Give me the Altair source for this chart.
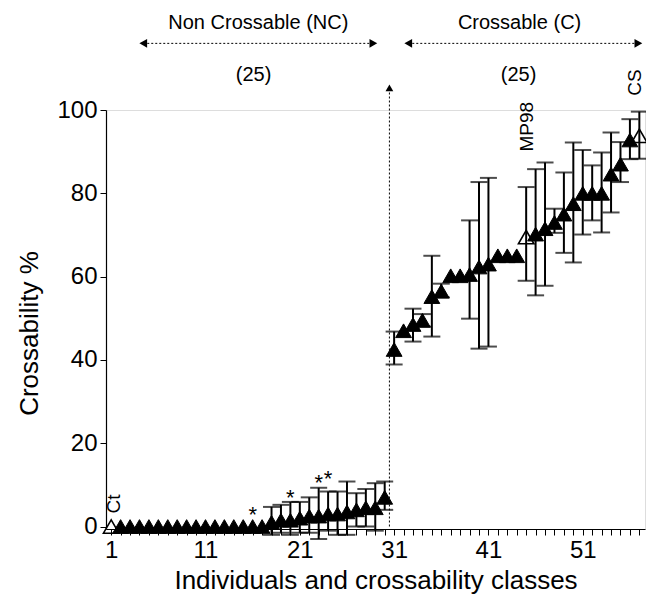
import altair as alt
import pandas as pd

# ---------------- data ----------------
individual = list(range(1, 58))
crossability = [
    0, 0, 0, 0, 0, 0, 0, 0, 0, 0, 0, 0, 0, 0, 0, 0, 0,
    1.0, 1.5, 1.5, 2.0, 2.5, 2.5, 3.0, 3.0, 3.5, 4.0, 4.5, 4.5, 7.0,
    42.5, 47.0, 48.5, 49.5, 55.2, 56.5, 60.2, 60.2, 60.5, 62.3, 63.0,
    65.0, 65.0, 65.0, 69.5, 70.2, 71.5, 73.0, 75.0, 77.5, 80.0, 80.0,
    80.0, 84.6, 87.0, 92.8, 93.8,
]
open_ids = [1, 45, 57]  # Ct, MP98, CS (open triangles)

err_id = [18, 19, 20, 21, 22, 23, 24, 25, 26, 27, 28, 29, 30,
          31, 33, 34, 35, 36, 39, 40, 41, 45, 46, 47, 48, 49, 50, 51, 52, 53, 54, 55, 56, 57]
err_low = [-2, -1.5, -2, -1.5, -1.5, -3, -1, -2, -2, 0, 0, -1, 4,
           38.9, 44.4, 48, 45.6, 55, 49.9, 42.7, 43.2, 59, 55.5, 57.8, 70.5, 65.7, 63.4,
           70.1, 73.5, 70.6, 75.4, 82.7, 88.2, 88.3]
err_high = [4.7, 5.2, 5.9, 5.9, 7.0, 9.3, 8.4, 8.4, 10.8, 8.0, 9.0, 10.4, 10.8,
            46.8, 52.3, 51, 65, 58.3, 73.5, 82.7, 83.7, 81.5, 85.8, 87.4, 76.3, 85, 92.2,
            90.4, 86.7, 89.8, 94.6, 92.3, 97.8, 99.6]

star_x = [16, 20, 23, 24]
star_y = [4.0, 8.0, 11.6, 12.6]

label_text = ["Ct", "MP98", "CS"]
label_x = [1.35, 45.1, 56.5]
label_y = [5.4, 96.0, 106.6]

x_ticks_labeled = [1, 11, 21, 31, 41, 51]
y_ticks = [0, 20, 40, 60, 80, 100]

# annotation positions (data coordinates, above the plot)
divider_x = 30.5
group_text = ["Non Crossable (NC)", "Crossable (C)"]
group_text_x = [16.6, 44.3]
group_count = ["(25)", "(25)"]
group_count_x = [16.1, 44.2]
arrow_start = [4.4, 32.5]
arrow_end = [28.8, 56.9]

FONT = "Liberation Sans"

# ---------------- frames ----------------
pts = pd.DataFrame({"x": individual, "y": crossability})
pts["kind"] = ["open" if i in open_ids else "filled" for i in individual]
errs = pd.DataFrame({"x": err_id, "lo": err_low, "hi": err_high})
stars = pd.DataFrame({"x": star_x, "y": star_y})
labels = pd.DataFrame({"x": label_x, "y": label_y, "t": label_text})
grp = pd.DataFrame({"x": group_text_x, "xc": group_count_x, "t": group_text, "c": group_count,
                    "x1": arrow_start, "x2": arrow_end})
grp["ty"] = 121.0
grp["ay"] = 116.0
grp["cy"] = 108.4
div = pd.DataFrame({"x": [divider_x], "y0": [0.0], "y1": [105.3]})

xs = alt.Scale(domain=[0.45, 57.6], nice=False, zero=False)
ys = alt.Scale(domain=[-0.6, 100], nice=False, zero=False)

x_axis = alt.Axis(
    values=individual,
    labelExpr="(datum.value - 1) % 10 == 0 ? datum.label : ''",
    tickSize=6, tickColor="black", domainColor="black", tickWidth=1, domainWidth=1.2,
    labelFontSize=24, labelColor="black", labelPadding=3, labelFlush=False, labelOverlap=False,
    titleFontSize=26, titleColor="black", titleFontWeight="normal",
    titleX=269.5, titleY=51, titleAlign="center", titleBaseline="middle",
    grid=False,
)
y_axis = alt.Axis(
    values=y_ticks,
    tickSize=6, tickColor="black", domainColor="black", tickWidth=1, domainWidth=1.2,
    labelFontSize=24, labelColor="black", labelPadding=3,
    titleFontSize=26, titleColor="black", titleFontWeight="normal",
    titleX=-77, titleY=223, titleAngle=270, titleAlign="center", titleBaseline="middle",
    grid=False,
)
XT = "Individuals and crossability classes"
YT = "Crossability %"


def X(field="x"):
    return alt.X(f"{field}:Q", scale=xs, axis=x_axis, title=XT)


def Y(field="y"):
    return alt.Y(f"{field}:Q", scale=ys, axis=y_axis, title=YT)


bars = alt.Chart(errs).mark_rule(color="black", strokeWidth=2).encode(
    x=X(), y=Y("lo"), y2="hi:Q")
cap_hi = alt.Chart(errs).mark_tick(color="black", orient="horizontal", size=17, thickness=2).encode(
    x=X(), y=Y("hi"))
cap_lo = alt.Chart(errs).mark_tick(color="black", orient="horizontal", size=17, thickness=2).encode(
    x=X(), y=Y("lo"))

filled = alt.Chart(pts).transform_filter("datum.kind == 'filled'").mark_point(
    shape="triangle-up", filled=True, color="black", stroke="black", strokeWidth=1,
    size=250, opacity=1).encode(x=X(), y=Y())
opened = alt.Chart(pts).transform_filter("datum.kind == 'open'").mark_point(
    shape="triangle-up", filled=False, color="black", strokeWidth=1.6,
    size=240, opacity=1).encode(x=X(), y=Y())

star_layer = alt.Chart(stars).mark_text(
    text="*", font=FONT, fontSize=22, color="black", baseline="middle", dy=5).encode(
    x=X(), y=Y())
label_layer = alt.Chart(labels).mark_text(
    font=FONT, fontSize=19, color="black", angle=270, align="center", baseline="middle").encode(
    x=X(), y=Y(), text="t:N")

divider = alt.Chart(div).mark_rule(color="black", strokeWidth=1, strokeDash=[2, 2]).encode(
    x=X(), y=Y("y0"), y2="y1:Q")
divider_head = alt.Chart(div).mark_point(
    shape="triangle-up", filled=True, color="black", size=60, opacity=1).encode(
    x=X(), y=Y("y1"))

arrows = alt.Chart(grp).mark_rule(color="black", strokeWidth=1, strokeDash=[2, 2]).encode(
    x=X("x1"), x2="x2:Q", y=Y("ay"))
head_l = alt.Chart(grp).mark_point(
    shape="triangle-left", filled=True, color="black", size=80, opacity=1).encode(
    x=X("x1"), y=Y("ay"))
head_r = alt.Chart(grp).mark_point(
    shape="triangle-right", filled=True, color="black", size=80, opacity=1).encode(
    x=X("x2"), y=Y("ay"))
grp_text = alt.Chart(grp).mark_text(
    font=FONT, fontSize=20, color="black", align="center", baseline="middle").encode(
    x=X("x"), y=Y("ty"), text="t:N")
grp_count = alt.Chart(grp).mark_text(
    font=FONT, fontSize=20, color="black", align="center", baseline="middle").encode(
    x=X("xc"), y=Y("cy"), text="c:N")

chart = alt.layer(
    divider, divider_head, bars, cap_hi, cap_lo, filled, opened,
    star_layer, label_layer, arrows, head_l, head_r, grp_text, grp_count,
).properties(
    width=539, height=419,
    padding={"left": 98, "top": 102, "right": 1, "bottom": 65},
    autosize=alt.AutoSizeParams(type="none"),
).configure_view(stroke=None).configure(font=FONT)

chart.save("out.html", embed_options={"renderer": "svg", "actions": False})
